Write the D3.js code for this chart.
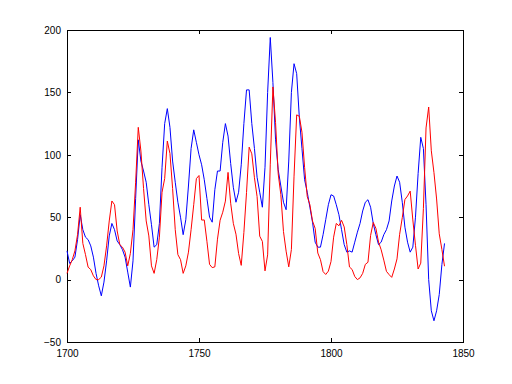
<!DOCTYPE html>
<html>
<head>
<meta charset="utf-8">
<script src="https://cdn.jsdelivr.net/npm/d3@7"></script>
<style>
  body { margin: 0; background: #fff; }
  svg { display: block; }
  .axis text { font-family: "Liberation Sans", Arial, sans-serif; font-size: 10px; fill: #000; }
</style>
</head>
<body>
<script>
// years 1700..1843
var firstYear = 1700;
var xTicks = [1700, 1750, 1800, 1850];
var yTicks = [-50, 0, 50, 100, 150, 200];

// red: yearly sunspot numbers
var actual = [5, 11, 16, 23, 36, 58, 29, 20, 10, 8, 3, 0, 0, 2, 11, 27, 47, 63, 60, 39,
  28, 26, 22, 11, 21, 40, 78, 122, 103, 73, 47, 35, 11, 5, 16, 34, 70, 81, 111, 101,
  73, 40, 20, 16, 5, 11, 22, 40, 60, 80.9, 83.4, 47.7, 47.8, 30.7, 12.2, 9.6, 10.2, 32.4, 47.6, 54.0,
  62.9, 85.9, 61.2, 45.1, 36.4, 20.9, 11.4, 37.8, 69.8, 106.1, 100.8, 81.6, 66.5, 34.8, 30.6, 7.0, 19.8, 92.5, 154.4, 125.9,
  84.8, 68.1, 38.5, 22.8, 10.2, 24.1, 82.9, 132.0, 130.9, 118.1, 89.9, 66.6, 60.0, 46.9, 41.0, 21.3, 16.0, 6.4, 4.1, 6.8,
  14.5, 34.0, 45.0, 43.1, 47.5, 42.2, 28.1, 10.1, 8.1, 2.5, 0.0, 1.4, 5.0, 12.2, 13.9, 35.4, 45.8, 41.1, 30.1, 23.9,
  15.6, 6.6, 4.0, 1.8, 8.5, 16.6, 36.3, 49.6, 64.2, 67.0, 70.9, 47.8, 27.5, 8.5, 13.2, 56.9, 121.5, 138.3, 103.2, 85.7,
  64.6, 36.7, 24.2, 10.7];

// blue: estimated series
var predicted = [23, 13, 15, 18, 32, 52, 40, 34, 32, 27, 18, 5, -5, -13, -2, 15, 35, 45, 40, 31,
  28, 24, 18, 6, -6, 15, 65, 112, 95, 87, 78, 60, 44, 26, 28, 45, 90, 125, 137, 122,
  95, 78, 62, 50, 36, 48, 75, 105, 120, 110, 100, 92, 80, 65, 50, 46, 72, 87, 87, 110,
  125, 115, 93, 74, 62, 70, 92, 125, 152, 152, 125, 105, 82, 70, 58, 90, 150, 194, 158, 112,
  88, 75, 62, 56, 95, 150, 173, 165, 130, 105, 80, 70, 58, 46, 30, 26, 26, 36, 48, 60,
  68, 67, 60, 52, 40, 28, 22, 23, 22, 30, 38, 45, 55, 62, 64, 58, 45, 36, 28, 30,
  36, 40, 47, 63, 75, 83, 78, 62, 42, 30, 22, 26, 50, 85, 114, 105, 60, 0, -25, -33,
  -25, -12, 12, 29];

var W = 512, H = 384;
var m = { l: 67, r: 463, t: 30, b: 342 };

var svg = d3.select("body").append("svg")
    .attr("width", W)
    .attr("height", H);

var x = d3.scaleLinear().domain([1700, 1850]).range([m.l, m.r]);
var y = d3.scaleLinear().domain([-50, 200]).range([m.b, m.t]);

// frame
svg.append("rect")
    .attr("x", m.l).attr("y", m.t)
    .attr("width", m.r - m.l).attr("height", m.b - m.t)
    .attr("fill", "#fff").attr("stroke", "#000").attr("stroke-width", 1)
    .attr("shape-rendering", "crispEdges");

// axes with inward ticks
var ax = svg.append("g").attr("class", "axis");
ax.append("g").attr("transform", "translate(0," + m.b + ")")
    .call(d3.axisBottom(x).tickValues(xTicks).tickFormat(d3.format("d")).tickSizeInner(-4).tickSizeOuter(0).tickPadding(8));
ax.append("g").attr("transform", "translate(0," + m.t + ")")
    .call(d3.axisTop(x).tickValues(xTicks).tickFormat("").tickSizeInner(-4).tickSizeOuter(0));
ax.append("g").attr("transform", "translate(" + m.l + ",0)")
    .call(d3.axisLeft(y).tickValues(yTicks).tickSizeInner(-4).tickSizeOuter(0).tickPadding(6));
ax.append("g").attr("transform", "translate(" + m.r + ",0)")
    .call(d3.axisRight(y).tickValues(yTicks).tickFormat("").tickSizeInner(-4).tickSizeOuter(0));
ax.selectAll(".domain").remove();
ax.selectAll("line").attr("shape-rendering", "crispEdges");

var line = d3.line()
    .x(function (d, i) { return x(firstYear + i); })
    .y(function (d) { return y(d); });

svg.append("path").datum(predicted)
    .attr("d", line).attr("fill", "none").attr("stroke", "#0000ff").attr("stroke-width", 1);
svg.append("path").datum(actual)
    .attr("d", line).attr("fill", "none").attr("stroke", "#ff0000").attr("stroke-width", 1);
</script>
</body>
</html>
